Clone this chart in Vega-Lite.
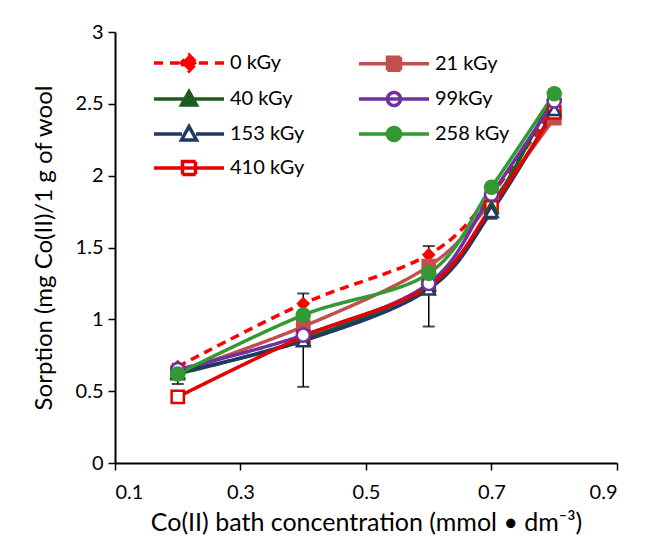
{
  "$schema": "https://vega.github.io/schema/vega-lite/v6.json",
  "width": 502,
  "height": 431,
  "autosize": "none",
  "padding": {"left": 115, "top": 32, "right": 35, "bottom": 82},
  "background": "white",
  "config": {
    "view": {"stroke": null},
    "font": "Lato",
    "axis": {"grid": false, "domainColor": "black", "domainWidth": 2, "tickColor": "black", "tickWidth": 1.5, "tickSize": 7, "labelFont": "Lato", "labelFontSize": 20, "labelColor": "black", "titleFont": "Lato", "titleFontSize": 24, "titleFontWeight": "normal", "titleColor": "black"}
  },
  "datasets": {
    "main": [
      {"series": "0 kGy", "x": 0.2, "y": 0.67}, {"series": "0 kGy", "x": 0.4, "y": 1.11}, {"series": "0 kGy", "x": 0.6, "y": 1.45}, {"series": "0 kGy", "x": 0.7, "y": 1.87}, {"series": "0 kGy", "x": 0.8, "y": 2.48},
      {"series": "21 kGy", "x": 0.2, "y": 0.63}, {"series": "21 kGy", "x": 0.4, "y": 0.95}, {"series": "21 kGy", "x": 0.6, "y": 1.37}, {"series": "21 kGy", "x": 0.7, "y": 1.82}, {"series": "21 kGy", "x": 0.8, "y": 2.40},
      {"series": "40 kGy", "x": 0.2, "y": 0.62}, {"series": "40 kGy", "x": 0.4, "y": 0.86}, {"series": "40 kGy", "x": 0.6, "y": 1.24}, {"series": "40 kGy", "x": 0.7, "y": 1.78}, {"series": "40 kGy", "x": 0.8, "y": 2.57},
      {"series": "99kGy", "x": 0.2, "y": 0.65}, {"series": "99kGy", "x": 0.4, "y": 0.89}, {"series": "99kGy", "x": 0.6, "y": 1.25}, {"series": "99kGy", "x": 0.7, "y": 1.87}, {"series": "99kGy", "x": 0.8, "y": 2.52},
      {"series": "153 kGy", "x": 0.2, "y": 0.63}, {"series": "153 kGy", "x": 0.4, "y": 0.85}, {"series": "153 kGy", "x": 0.6, "y": 1.21}, {"series": "153 kGy", "x": 0.7, "y": 1.75}, {"series": "153 kGy", "x": 0.8, "y": 2.46},
      {"series": "258 kGy", "x": 0.2, "y": 0.62}, {"series": "258 kGy", "x": 0.4, "y": 1.03}, {"series": "258 kGy", "x": 0.6, "y": 1.32}, {"series": "258 kGy", "x": 0.7, "y": 1.92}, {"series": "258 kGy", "x": 0.8, "y": 2.57},
      {"series": "410 kGy", "x": 0.2, "y": 0.46}, {"series": "410 kGy", "x": 0.4, "y": 0.88}, {"series": "410 kGy", "x": 0.6, "y": 1.23}, {"series": "410 kGy", "x": 0.7, "y": 1.78}, {"series": "410 kGy", "x": 0.8, "y": 2.44}
    ],
    "err": [
      {"x": 0.2, "lo": 0.55, "hi": 0.69},
      {"x": 0.4, "lo": 0.53, "hi": 1.18},
      {"x": 0.6, "lo": 0.95, "hi": 1.51},
      {"x": 0.7, "lo": 1.70, "hi": 1.80},
      {"x": 0.8, "lo": 2.44, "hi": 2.60}
    ]
  },
  "layer": [
    {
      "data": {"name": "err"},
      "mark": {"type": "rule", "color": "black", "strokeWidth": 1.5},
      "encoding": {
        "x": {"field": "x", "type": "quantitative", "scale": {"domain": [0.1, 0.9]}},
        "y": {"field": "lo", "type": "quantitative", "scale": {"domain": [0, 3]}},
        "y2": {"field": "hi"}
      }
    },
    {
      "data": {"name": "err"},
      "mark": {"type": "tick", "color": "black", "orient": "horizontal", "size": 12, "thickness": 2},
      "encoding": {
        "x": {"field": "x", "type": "quantitative"},
        "y": {"field": "lo", "type": "quantitative"}
      }
    },
    {
      "data": {"name": "err"},
      "mark": {"type": "tick", "color": "black", "orient": "horizontal", "size": 12, "thickness": 2},
      "encoding": {
        "x": {"field": "x", "type": "quantitative"},
        "y": {"field": "hi", "type": "quantitative"}
      }
    },
    {
      "data": {"name": "main"},
      "mark": {"type": "line", "interpolate": "cardinal", "strokeWidth": 3.5},
      "encoding": {
        "x": {"field": "x", "type": "quantitative", "scale": {"domain": [0.1, 0.9]},
          "axis": {"values": [0.1, 0.3, 0.5, 0.7, 0.9], "labelExpr": "format(datum.value, '.1f')", "title": "Co(II) bath concentration (mmol • dm⁻³)", "titlePadding": 8, "labelPadding": 12, "titleFontSize": 25}},
        "y": {"field": "y", "type": "quantitative", "scale": {"domain": [0, 3]},
          "axis": {"values": [0, 0.5, 1, 1.5, 2, 2.5, 3], "labelExpr": "toString(datum.value)", "title": "Sorption (mg Co(II)/1 g of wool", "titlePadding": 19, "labelPadding": 5}},
        "stroke": {"field": "series", "type": "nominal",
          "scale": {"domain": ["0 kGy", "21 kGy", "40 kGy", "99kGy", "153 kGy", "258 kGy", "410 kGy"], "range": ["#FF0000", "#C0504D", "#1E5B1E", "#7030A0", "#1F3864", "#339933", "#E60000"]},
          "legend": {
            "orient": "none", "legendX": 37, "legendY": 19, "direction": "horizontal", "columns": 2, "columnPadding": 47, "rowPadding": 6, "padding": 0,
            "title": null, "labelFont": "Lato", "labelFontSize": 20, "labelColor": "black", "labelOffset": 54,
            "symbolSize": 400, "symbolStrokeWidth": 3.5,
            "encode": {"symbols": {"update": {
              "shape": {"signal": "['M-1,0H-0.1M0.6,0H1.5M3.5,0H4.4M5.1,0H6M2.5,-0.8L3.3,0L2.5,0.8L1.7,0Z','M-1,0H6M1.85,-0.65H3.15V0.65H1.85Z','M-1,0H6M2.5,-0.75L3.25,0.6H1.75Z','M-1,0H6M1.85,0A0.65,0.65,0,1,0,3.15,0A0.65,0.65,0,1,0,1.85,0Z','M-1,0H1.8M3.2,0H6M2.5,-0.75L3.25,0.6H1.75Z','M-1,0H6M1.85,0A0.65,0.65,0,1,0,3.15,0A0.65,0.65,0,1,0,1.85,0Z','M-1,0H6M1.85,-0.65H3.15V0.65H1.85Z'][indexof(['0 kGy','21 kGy','40 kGy','99kGy','153 kGy','258 kGy','410 kGy'], datum.value)]"},
              "fill": {"signal": "['#FF0000','#C0504D','#1E5B1E','#FFFFFF','#FFFFFF','#339933','#FFFFFF'][indexof(['0 kGy','21 kGy','40 kGy','99kGy','153 kGy','258 kGy','410 kGy'], datum.value)]"},
              "strokeDash": {"value": []},
              "opacity": {"value": 1}
            }}}
          }},
        "strokeDash": {"field": "series", "type": "nominal",
          "scale": {"domain": ["0 kGy", "21 kGy", "40 kGy", "99kGy", "153 kGy", "258 kGy", "410 kGy"], "range": [[9, 6], [1, 0], [1, 0], [1, 0], [1, 0], [1, 0], [1, 0]]},
          "legend": null}
      }
    },
    {
      "data": {"name": "main"},
      "transform": [{"filter": {"field": "series", "oneOf": ["0 kGy"]}}],
      "mark": {"type": "point", "shape": "diamond", "size": 190, "strokeWidth": 2, "opacity": 1, "filled": true},
      "encoding": {
        "x": {"field": "x", "type": "quantitative"},
        "y": {"field": "y", "type": "quantitative"},
        "fill": {"field": "series", "type": "nominal", "legend": null,
          "scale": {"domain": ["0 kGy", "21 kGy", "40 kGy", "99kGy", "153 kGy", "258 kGy", "410 kGy"], "range": ["#FF0000", "#C0504D", "#1E5B1E", "#FFFFFF", "#FFFFFF", "#339933", "#FFFFFF"]}}
      }
    },
    {
      "data": {"name": "main"},
      "transform": [{"filter": {"field": "series", "oneOf": ["21 kGy", "410 kGy"]}}],
      "mark": {"type": "point", "shape": "square", "size": 150, "strokeWidth": 2.5, "opacity": 1},
      "encoding": {
        "x": {"field": "x", "type": "quantitative"},
        "y": {"field": "y", "type": "quantitative"},
        "stroke": {"field": "series", "type": "nominal", "legend": null},
        "fill": {"field": "series", "type": "nominal", "legend": null}
      }
    },
    {
      "data": {"name": "main"},
      "transform": [{"filter": {"field": "series", "oneOf": ["40 kGy", "153 kGy"]}}],
      "mark": {"type": "point", "shape": "triangle-up", "size": 150, "strokeWidth": 2.5, "opacity": 1},
      "encoding": {
        "x": {"field": "x", "type": "quantitative"},
        "y": {"field": "y", "type": "quantitative"},
        "stroke": {"field": "series", "type": "nominal", "legend": null},
        "fill": {"field": "series", "type": "nominal", "legend": null}
      }
    },
    {
      "data": {"name": "main"},
      "transform": [{"filter": {"field": "series", "oneOf": ["99kGy", "258 kGy"]}}],
      "mark": {"type": "point", "shape": "circle", "size": 170, "strokeWidth": 2.5, "opacity": 1},
      "encoding": {
        "x": {"field": "x", "type": "quantitative"},
        "y": {"field": "y", "type": "quantitative"},
        "stroke": {"field": "series", "type": "nominal", "legend": null},
        "fill": {"field": "series", "type": "nominal", "legend": null}
      }
    }
  ]
}
